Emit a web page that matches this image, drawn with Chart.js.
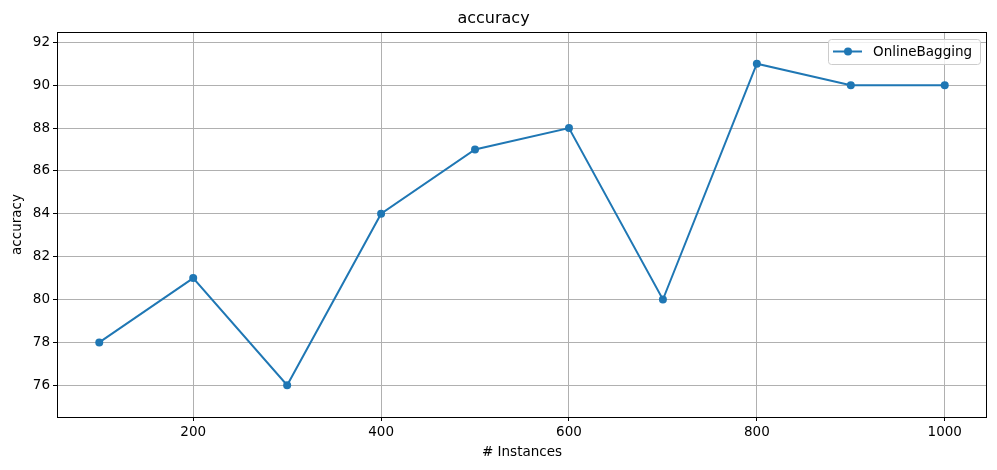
<!DOCTYPE html>
<html>
<head>
<meta charset="utf-8">
<script src="https://cdn.jsdelivr.net/npm/chart.js@4.4.0/dist/chart.umd.min.js"></script>
<style>
  html, body { margin: 0; padding: 0; background: #fff; }
  #wrap { width: 997px; height: 470px; }
</style>
</head>
<body>
<div id="wrap"><canvas id="accChart" width="997" height="470"></canvas></div>
<script>
// data
const instances = [100, 200, 300, 400, 500, 600, 700, 800, 900, 1000];
const accuracy = [78, 81, 76, 84, 87, 88, 80, 91, 90, 90];
const xTicks = [200, 400, 600, 800, 1000];
const yTicks = [76, 78, 80, 82, 84, 86, 88, 90, 92];
const seriesName = 'OnlineBagging';

const lineColor = '#1f77b4';
const fontFamily = '"DejaVu Sans", sans-serif';

// frame around the plot + matplotlib style legend in the upper right
const framePlugin = {
    id: 'frame',
    afterDraw(chart) {
        const ctx = chart.ctx;
        const a = chart.chartArea;
        ctx.save();
        ctx.strokeStyle = '#000';
        ctx.lineWidth = 1;
        ctx.strokeRect(Math.round(a.left) + 0.5, Math.round(a.top) + 0.5,
            Math.round(a.right - a.left) - 1, Math.round(a.bottom - a.top));

        // legend box
        const bx = a.right - 159, by = a.top + 7, bw = 152, bh = 25;
        ctx.fillStyle = 'rgba(255,255,255,0.8)';
        ctx.strokeStyle = '#cccccc';
        ctx.beginPath();
        ctx.roundRect(bx + 0.5, by + 0.5, bw, bh, 3);
        ctx.fill();
        ctx.stroke();

        const ly = by + bh / 2;
        ctx.strokeStyle = lineColor;
        ctx.lineWidth = 2;
        ctx.beginPath();
        ctx.moveTo(bx + 5, ly);
        ctx.lineTo(bx + 34, ly);
        ctx.stroke();
        ctx.fillStyle = lineColor;
        ctx.beginPath();
        ctx.arc(bx + 20, ly, 4, 0, Math.PI * 2);
        ctx.fill();

        ctx.fillStyle = '#000';
        ctx.font = '13.5px ' + fontFamily;
        ctx.textBaseline = 'middle';
        ctx.textAlign = 'left';
        ctx.fillText(seriesName, bx + 45, ly + 1);
        ctx.restore();
    }
};

const ctx = document.getElementById('accChart').getContext('2d');
new Chart(ctx, {
    type: 'line',
    data: {
        datasets: [{
            label: seriesName,
            data: instances.map((x, i) => ({ x: x, y: accuracy[i] })),
            borderColor: lineColor,
            backgroundColor: lineColor,
            borderWidth: 2,
            pointRadius: 4,
            pointHoverRadius: 4,
            pointBorderWidth: 0,
            tension: 0
        }]
    },
    options: {
        responsive: false,
        animation: false,
        devicePixelRatio: 1,
        layout: { padding: { left: 0, right: 10, top: 0, bottom: 0 } },
        plugins: {
            legend: { display: false },
            tooltip: { enabled: false },
            title: {
                display: true,
                text: 'accuracy',
                color: '#000',
                font: { family: fontFamily, size: 16, weight: 'normal' },
                padding: { top: 9.5, bottom: 3.3 }
            }
        },
        scales: {
            x: {
                type: 'linear',
                min: 55,
                max: 1045,
                afterBuildTicks(scale) {
                    scale.ticks = xTicks.map(v => ({ value: v }));
                },
                afterFit(scale) { scale.height = 53; },
                ticks: {
                    color: '#000',
                    font: { family: fontFamily, size: 13.5 },
                    padding: 3,
                    maxRotation: 0,
                    callback: v => String(v)
                },
                grid: { color: '#b0b0b0', lineWidth: 1, tickLength: 4, tickColor: '#000' },
                border: { display: false },
                title: {
                    display: true,
                    text: '# Instances',
                    color: '#000',
                    font: { family: fontFamily, size: 13.5 },
                    padding: { top: 0, bottom: 9 }
                }
            },
            y: {
                type: 'linear',
                min: 74.52,
                max: 92.48,
                afterBuildTicks(scale) {
                    scale.ticks = yTicks.map(v => ({ value: v }));
                },
                afterFit(scale) { scale.width = 57; },
                ticks: {
                    color: '#000',
                    font: { family: fontFamily, size: 13.5 },
                    padding: 3,
                    callback: v => String(v)
                },
                grid: { color: '#b0b0b0', lineWidth: 1, tickLength: 4, tickColor: '#000' },
                border: { display: false },
                title: {
                    display: true,
                    text: 'accuracy',
                    color: '#000',
                    font: { family: fontFamily, size: 13.5 },
                    padding: { top: 9, bottom: 0 }
                }
            }
        }
    },
    plugins: [framePlugin]
});
</script>
</body>
</html>
